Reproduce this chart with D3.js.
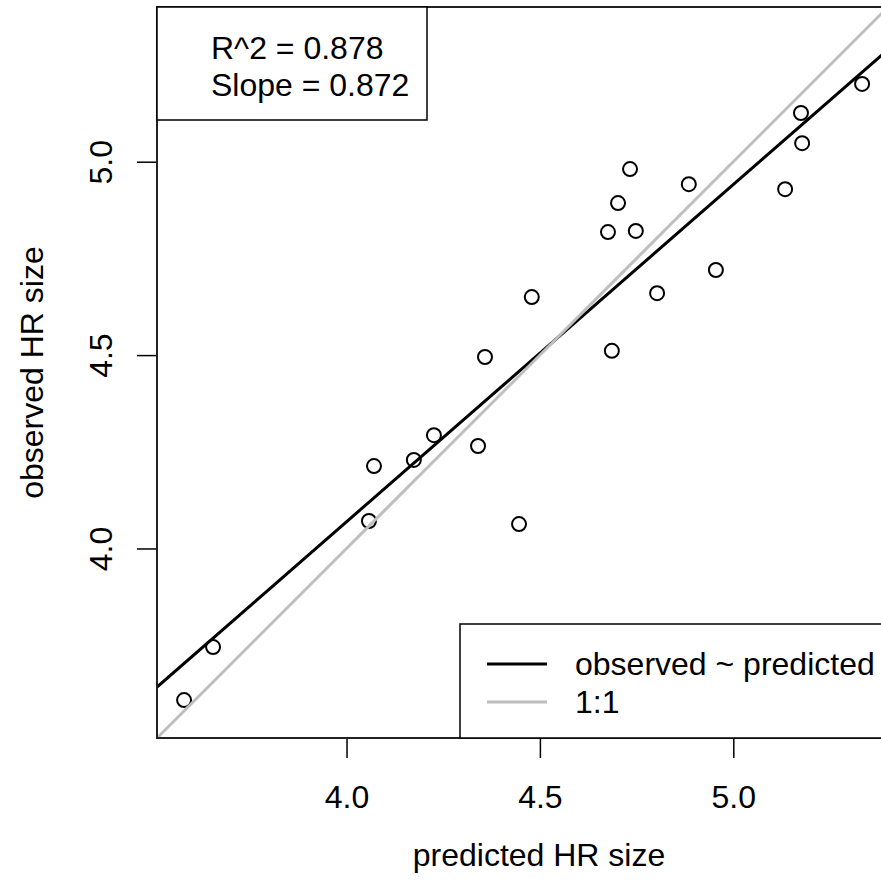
<!DOCTYPE html>
<html>
<head>
<meta charset="utf-8">
<script src="https://cdn.jsdelivr.net/npm/d3@7"></script>
<style>
  body { margin: 0; background: #fff; }
  text { font-family: "Liberation Sans", Arial, sans-serif; fill: #000; }
</style>
</head>
<body>
<div id="chart"></div>
<script>
// values
const predicted = [3.580, 3.655, 4.058, 4.071, 4.174, 4.226, 4.340, 4.358, 4.446, 4.479, 4.702,
    4.676, 4.686, 4.733, 4.748, 4.803, 4.885, 4.955, 5.134, 5.175, 5.178, 5.333];
const observed = [3.608, 3.745, 4.071, 4.213, 4.229, 4.293, 4.265, 4.495, 4.063, 4.650, 4.893,
    4.818, 4.511, 4.981, 4.821, 4.660, 4.942, 4.720, 4.929, 5.126, 5.048, 5.201];
const fitIntercept = 0.581;
const fitSlope = 0.872;
const statsLines = ["R^2 = 0.878", "Slope = 0.872"];
const legendLabels = ["observed ~ predicted", "1:1"];
const legendColors = ["#000000", "#bebebe"];
const tickValues = [4.0, 4.5, 5.0];
const axisLimits = [3.51, 5.40];

const width = 881, height = 895;
const plot = { left: 157, top: 7, right: 888, bottom: 738 };
const fs = 32;

const svg = d3.select("#chart")
    .append("svg")
    .attr("width", width)
    .attr("height", height);

const x = d3.scaleLinear().domain(axisLimits).range([plot.left, plot.right]);
const y = d3.scaleLinear().domain(axisLimits).range([plot.bottom, plot.top]);

// clip for everything inside the plot box
svg.append("clipPath").attr("id", "plotclip")
    .append("rect")
    .attr("x", plot.left).attr("y", plot.top)
    .attr("width", plot.right - plot.left).attr("height", plot.bottom - plot.top);

const inner = svg.append("g").attr("clip-path", "url(#plotclip)");

// points
inner.selectAll("circle")
    .data(predicted)
    .join("circle")
    .attr("cx", d => x(d))
    .attr("cy", (d, i) => y(observed[i]))
    .attr("r", 7)
    .style("fill", "none")
    .style("stroke", "#000")
    .style("stroke-width", 2);

// fitted line and 1:1 line
const lineData = [
    { a: fitIntercept, b: fitSlope, color: legendColors[0] },
    { a: 0, b: 1, color: legendColors[1] }
];
inner.selectAll("line.fit")
    .data(lineData)
    .join("line")
    .attr("class", "fit")
    .attr("x1", x(axisLimits[0]))
    .attr("x2", x(axisLimits[1]))
    .attr("y1", d => y(d.a + d.b * axisLimits[0]))
    .attr("y2", d => y(d.a + d.b * axisLimits[1]))
    .style("stroke", d => d.color)
    .style("stroke-width", 3);

// x axis
const xAxis = svg.append("g").attr("transform", "translate(0," + plot.bottom + ")")
    .call(d3.axisBottom(x).tickValues(tickValues).tickSize(20).tickFormat(d3.format(".1f")));
xAxis.select(".domain").remove();
xAxis.selectAll("line").style("stroke", "#000").style("stroke-width", 1.5);
xAxis.selectAll("text")
    .attr("y", 70)
    .attr("dy", 0)
    .style("font-size", fs + "px")
    .style("font-family", "Liberation Sans, Arial, sans-serif");

// y axis
const yAxis = svg.append("g").attr("transform", "translate(" + plot.left + ",0)")
    .call(d3.axisLeft(y).tickValues(tickValues).tickSize(20).tickFormat(d3.format(".1f")));
yAxis.select(".domain").remove();
yAxis.selectAll("line").style("stroke", "#000").style("stroke-width", 1.5);
yAxis.selectAll("text")
    .attr("x", 0).attr("dy", 0)
    .attr("text-anchor", "middle")
    .attr("transform", "translate(-45,0) rotate(-90)")
    .style("font-size", fs + "px")
    .style("font-family", "Liberation Sans, Arial, sans-serif");

// plot box
svg.append("rect")
    .attr("x", plot.left).attr("y", plot.top)
    .attr("width", plot.right - plot.left).attr("height", plot.bottom - plot.top)
    .style("fill", "none")
    .style("stroke", "#222")
    .style("stroke-width", 2);

// axis titles
svg.append("text")
    .attr("x", (plot.left + 881) / 2 + 20)
    .attr("y", 866)
    .attr("text-anchor", "middle")
    .style("font-size", fs + "px")
    .text("predicted HR size");

svg.append("text")
    .attr("transform", "translate(43," + (plot.top + plot.bottom) / 2 + ") rotate(-90)")
    .attr("text-anchor", "middle")
    .style("font-size", fs + "px")
    .text("observed HR size");

// stats box (top left)
svg.append("rect")
    .attr("x", plot.left).attr("y", plot.top)
    .attr("width", 270).attr("height", 113)
    .style("fill", "#fff")
    .style("stroke", "#000")
    .style("stroke-width", 1.5);
svg.selectAll("text.stats")
    .data(statsLines)
    .join("text")
    .attr("class", "stats")
    .attr("x", 211)
    .attr("y", (d, i) => 59 + i * 37)
    .style("font-size", fs + "px")
    .text(d => d);

// legend (bottom right)
svg.append("rect")
    .attr("x", 460).attr("y", 624)
    .attr("width", 450).attr("height", plot.bottom - 624)
    .style("fill", "#fff")
    .style("stroke", "#000")
    .style("stroke-width", 1.5);
const leg = svg.selectAll("g.leg")
    .data(legendLabels)
    .join("g")
    .attr("class", "leg")
    .attr("transform", (d, i) => "translate(0," + (664 + i * 38) + ")");
leg.append("line")
    .attr("x1", 487).attr("x2", 547)
    .style("stroke", (d, i) => legendColors[i])
    .style("stroke-width", 3);
leg.append("text")
    .attr("x", 575)
    .attr("y", 11)
    .style("font-size", fs + "px")
    .text(d => d);
</script>
</body>
</html>
